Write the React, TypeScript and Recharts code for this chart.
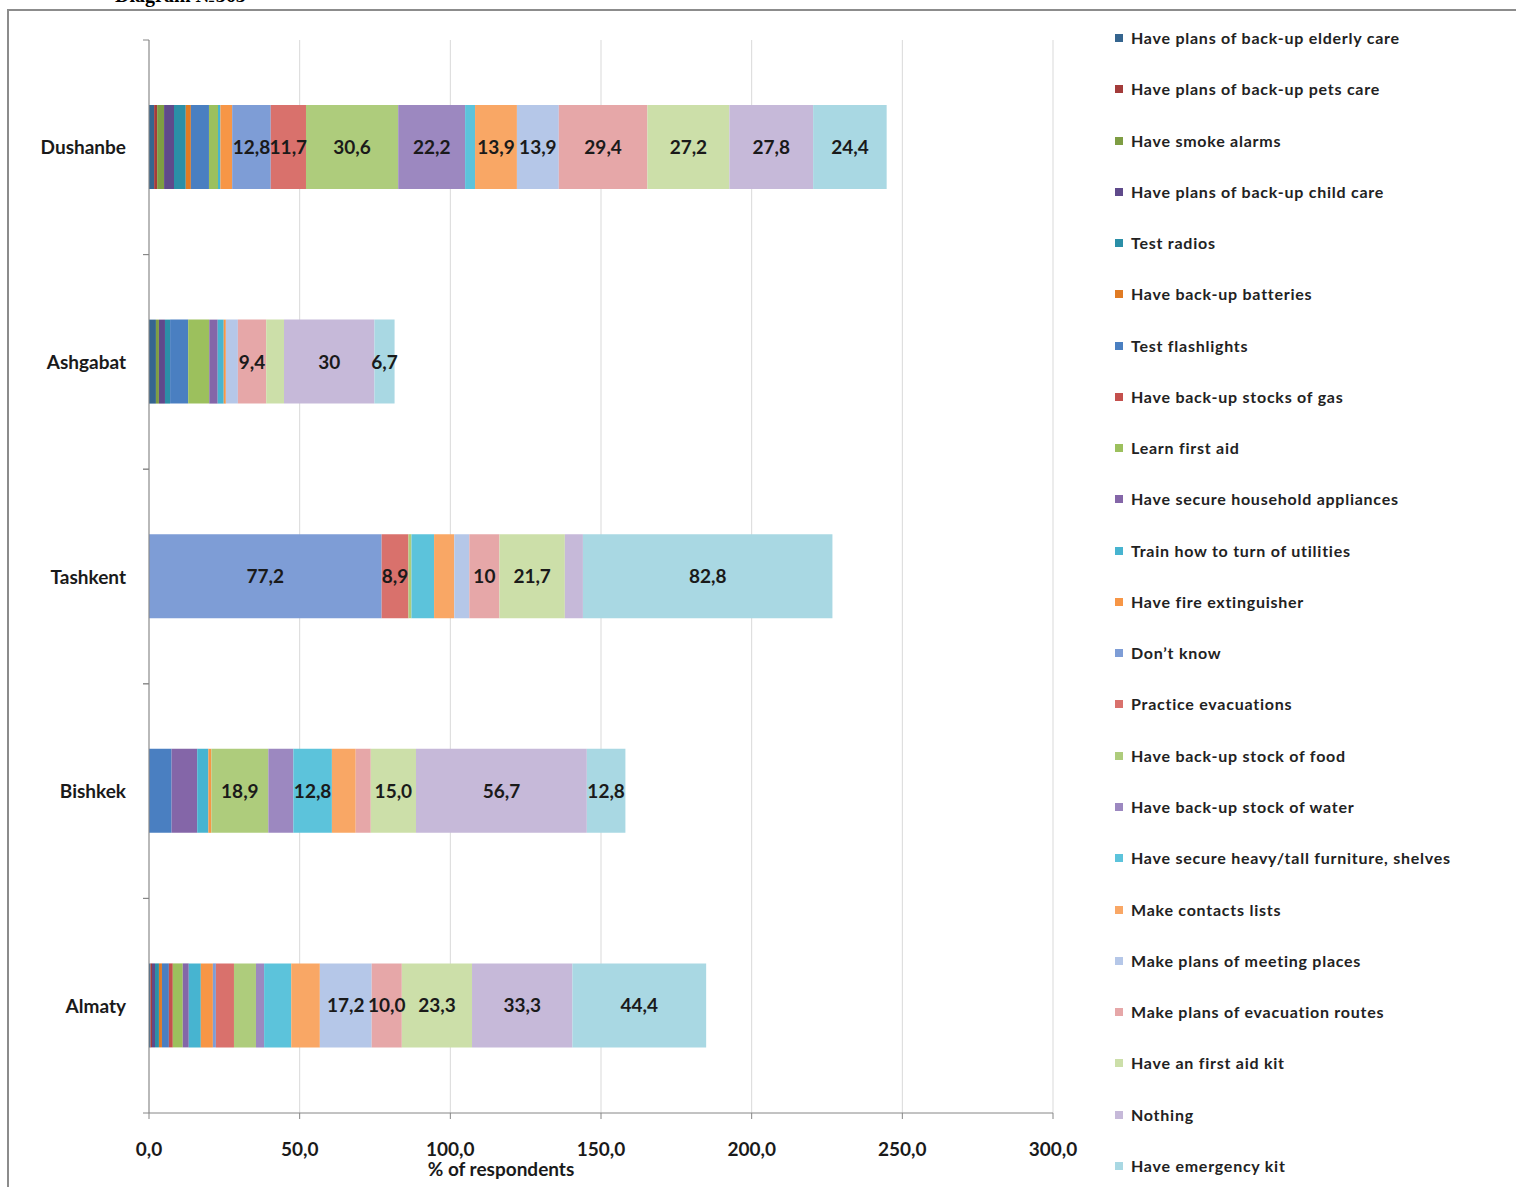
import React from "react";
import { BarChart, Bar, XAxis, YAxis, CartesianGrid, LabelList } from "recharts";

const cities = ["Dushanbe", "Ashgabat", "Tashkent", "Bishkek", "Almaty"];

const seriesNames = [
  "Have plans of back-up elderly care",
  "Have plans of back-up pets care",
  "Have smoke alarms",
  "Have plans of back-up child care",
  "Test radios",
  "Have back-up batteries",
  "Test flashlights",
  "Have back-up stocks of gas",
  "Learn first aid",
  "Have secure household appliances",
  "Train how to turn of utilities",
  "Have fire extinguisher",
  "Don\u2019t know",
  "Practice evacuations",
  "Have back-up stock of food",
  "Have back-up stock of water",
  "Have secure heavy/tall furniture, shelves",
  "Make contacts lists",
  "Make plans of meeting places",
  "Make plans of evacuation routes",
  "Have an first aid kit",
  "Nothing",
  "Have emergency kit",
];

const colors = [
  "#35658f", "#a33b3a", "#7e9d43", "#5f4a8b", "#2b8fa7", "#e07b24",
  "#4a7fc1", "#c4504d", "#9cc05d", "#8466a8", "#47b4d0", "#f79646",
  "#7e9dd6", "#d9716c", "#aecc7c", "#9c88c0", "#5cc3db", "#f9a765",
  "#b5c7e8", "#e6a7a8", "#ccdfa9", "#c6b9d9", "#a9d8e3",
];

// values per city, in series order (left to right in the bar)
const dushanbe = [1.7, 1.0, 2.3, 3.3, 3.9, 1.7, 6.0, 0, 3.0, 0, 0.8, 3.9, 12.8, 11.7, 30.6, 22.2, 3.3, 13.9, 13.9, 29.4, 27.2, 27.8, 24.4];
const ashgabat = [2.3, 0, 1.0, 2.0, 1.7, 0, 6.0, 0, 7.0, 2.8, 2.0, 0.7, 0, 0, 0, 0, 0, 0, 4.0, 9.4, 5.9, 30.0, 6.7];
const tashkent = [0, 0, 0, 0, 0, 0, 0, 0, 0, 0, 0, 0, 77.2, 8.9, 1.0, 0, 7.5, 6.7, 5.0, 10.0, 21.7, 6.0, 82.8];
const bishkek = [0, 0, 0, 0, 0, 0, 7.5, 0, 0, 8.5, 3.7, 1.0, 0, 0, 18.9, 8.3, 12.8, 7.9, 0, 5.0, 15.0, 56.7, 12.8];
const almaty = [0.5, 0.5, 0, 1.0, 1.3, 1.0, 2.3, 1.3, 3.3, 2.0, 4.0, 4.0, 1.0, 6.0, 7.3, 2.7, 9.0, 9.5, 17.2, 10.0, 23.3, 33.3, 44.4];

// the data labels printed on the bars (series index -> text)
const dushanbeLabels: Record<number, string> = { 12: "12,8", 13: "11,7", 14: "30,6", 15: "22,2", 17: "13,9", 18: "13,9", 19: "29,4", 20: "27,2", 21: "27,8", 22: "24,4" };
const ashgabatLabels: Record<number, string> = { 19: "9,4", 21: "30", 22: "6,7" };
const tashkentLabels: Record<number, string> = { 12: "77,2", 13: "8,9", 19: "10", 20: "21,7", 22: "82,8" };
const bishkekLabels: Record<number, string> = { 14: "18,9", 16: "12,8", 20: "15,0", 21: "56,7", 22: "12,8" };
const almatyLabels: Record<number, string> = { 18: "17,2", 19: "10,0", 20: "23,3", 21: "33,3", 22: "44,4" };

const xTicks = [0, 50, 100, 150, 200, 250, 300];

const cityValues = [dushanbe, ashgabat, tashkent, bishkek, almaty];
const cityLabels = [dushanbeLabels, ashgabatLabels, tashkentLabels, bishkekLabels, almatyLabels];

const data = cities.map((city, c) => {
  const row: any = { city };
  cityValues[c].forEach((v, i) => (row["s" + i] = v));
  Object.entries(cityLabels[c]).forEach(([i, t]) => (row["l" + i] = t));
  return row;
});

const font = "Lato, 'Open Sans', sans-serif";
const W = 1516;
const H = 1187;
const margin = { top: 40, right: 463, bottom: 14, left: 0 };
const xAxisHeight = 60;
const band = (H - margin.top - margin.bottom - xAxisHeight) / cities.length;

const renderLabel = (props: any) => {
  const { x, y, width, height, value } = props;
  if (value == null || value === "") return null;
  return (
    <text x={x + width / 2} y={y + height / 2} dy={7} textAnchor="middle" fontFamily={font} fontWeight={700} fontSize={19} fill="#1a1a1a">
      {value}
    </text>
  );
};

// category label plus Excel-style tick marks between categories
const renderCityTick = (props: any) => {
  const { x, y, payload } = props;
  const ax = x + 23;
  return (
    <g>
      <text x={x} y={y} dy={7} textAnchor="end" fontFamily={font} fontWeight={700} fontSize={19} fill="#1a1a1a">
        {payload.value}
      </text>
      <line x1={ax - 6} x2={ax} y1={y - band / 2} y2={y - band / 2} stroke="#868686" />
      <line x1={ax - 6} x2={ax} y1={y + band / 2} y2={y + band / 2} stroke="#868686" />
    </g>
  );
};

export default function App() {
  return (
    <div style={{ position: "absolute", left: 0, top: 0, width: W, height: H, overflow: "hidden", background: "#fff" }}>
      <div style={{ position: "absolute", left: 115, top: -15, fontFamily: "'Liberation Serif', serif", fontWeight: 700, fontSize: 20, lineHeight: "20px" }}>
        Diagram №363
      </div>
      <div style={{ position: "absolute", left: 7, top: 9, width: 1530, height: 1200, border: "2px solid #8c8c8c" }} />
      <div style={{ position: "absolute", left: 0, top: 0 }}>
        <BarChart width={W} height={H} data={data} layout="vertical" margin={margin}>
          <CartesianGrid horizontal={false} stroke="#d9d9d9" />
          <XAxis
            type="number"
            domain={[0, 300]}
            ticks={xTicks}
            height={xAxisHeight}
            tickFormatter={(v: number) => v.toFixed(1).replace(".", ",")}
            tick={{ fontFamily: font, fontWeight: 700, fontSize: 19, fill: "#1a1a1a" }}
            tickSize={6}
            tickMargin={24}
            stroke="#868686"
            label={{ value: "% of respondents", position: "insideBottom", offset: -3, dx: -100, fontFamily: font, fontWeight: 700, fontSize: 19, fill: "#1a1a1a" }}
          />
          <YAxis
            type="category"
            dataKey="city"
            width={149}
            tickSize={0}
            tickMargin={23}
            tick={renderCityTick}
            stroke="#868686"
          />
          {seriesNames.map((name, i) => (
            <Bar key={name} name={name} dataKey={"s" + i} stackId="a" fill={colors[i]} barSize={84} isAnimationActive={false}>
              <LabelList dataKey={"l" + i} content={renderLabel} />
            </Bar>
          ))}
        </BarChart>
      </div>
      <div style={{ position: "absolute", left: 1115, top: 28, fontFamily: font, fontWeight: 700, fontSize: 16, letterSpacing: 0.75, color: "#222" }}>
        {seriesNames.map((name, i) => (
          <div key={name} style={{ height: 51.27, display: "flex", alignItems: "flex-start" }}>
            <span style={{ display: "inline-block", width: 8, height: 8, background: colors[i], marginTop: 6, marginRight: 8 }} />
            <span style={{ lineHeight: "20px" }}>{name}</span>
          </div>
        ))}
      </div>
    </div>
  );
}
